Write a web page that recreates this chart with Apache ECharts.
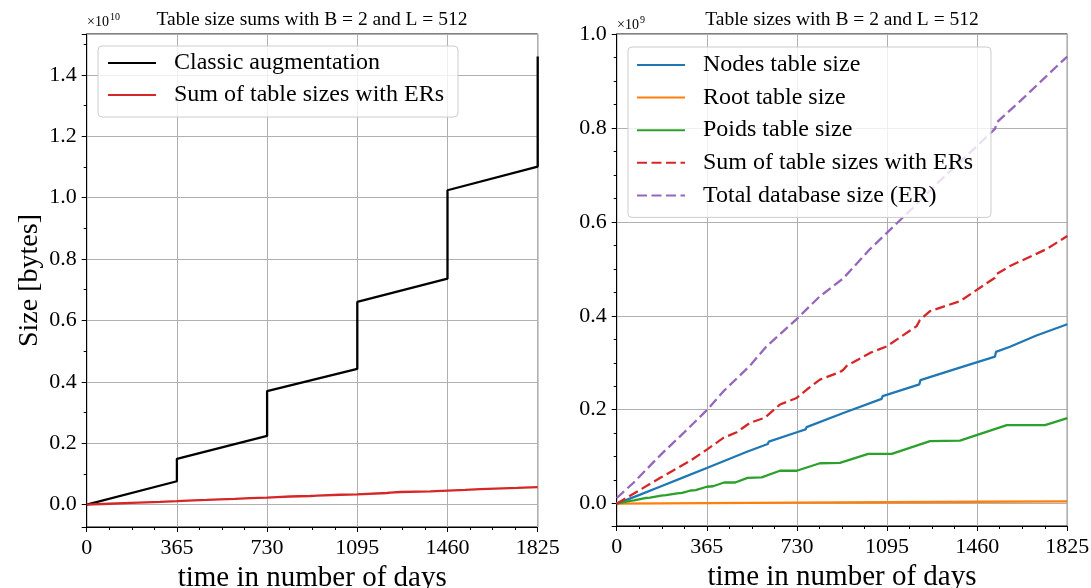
<!DOCTYPE html>
<html><head><meta charset="utf-8">
<script src="https://cdn.jsdelivr.net/npm/echarts@6/dist/echarts.min.js"></script>
<style>html,body{margin:0;padding:0;background:#fff}#c{width:1091px;height:588px}</style>
</head><body><div id="c"></div>
<script>
// values in units of 1e9 bytes, x in days
const dayTicks = [0, 365, 730, 1095, 1460, 1825];
const classicAug = [[0,0],[365,0.76],[365,1.49],[730,2.24],[730,3.70],[1095,4.42],[1095,6.60],[1460,7.36],[1460,10.24],[1825,11.01],[1825,14.6]];
const sumER = [[0,0],[90,0.028],[180,0.056],[297,0.091],[365,0.115],[432,0.140],[486,0.152],[540,0.172],[600,0.183],[661,0.211],[729,0.225],[770,0.243],[823,0.264],[904,0.280],[918,0.285],[931,0.293],[1026,0.321],[1094,0.335],[1215,0.378],[1228,0.391],[1269,0.410],[1390,0.431],[1532,0.481],[1539,0.489],[1593,0.506],[1741,0.542],[1825,0.570]];
const nodesT = [[0,0],[90,0.018],[180,0.037],[270,0.056],[365,0.076],[450,0.094],[530,0.111],[612,0.127],[616,0.132],[730,0.152],[765,0.158],[769,0.163],[918,0.193],[922,0.197],[1073,0.223],[1077,0.229],[1226,0.254],[1230,0.263],[1380,0.288],[1532,0.313],[1536,0.323],[1593,0.334],[1700,0.358],[1825,0.382]];
const rootT = [[0,0],[365,0.001],[730,0.002],[1095,0.003],[1460,0.004],[1825,0.005]];
const poidsT = [[0,0],[55,0.006],[70,0.007],[115,0.012],[135,0.013],[180,0.017],[200,0.018],[245,0.022],[265,0.023],[300,0.028],[320,0.029],[365,0.036],[390,0.037],[435,0.045],[480,0.045],[530,0.055],[587,0.056],[661,0.070],[729,0.070],[823,0.086],[904,0.087],[1019,0.106],[1114,0.106],[1269,0.133],[1390,0.134],[1580,0.167],[1735,0.167],[1825,0.182]];
const totalER = [[0,0.012],[67,0.044],[180,0.105],[270,0.150],[365,0.199],[432,0.239],[540,0.294],[607,0.335],[729,0.393],[820,0.440],[918,0.480],[1026,0.542],[1095,0.577],[1200,0.630],[1300,0.683],[1420,0.742],[1532,0.798],[1540,0.812],[1650,0.865],[1810,0.945],[1825,0.952]];

const FF = '"Liberation Serif", "DejaVu Serif", serif';
const chart = echarts.init(document.getElementById('c'), null, {renderer: 'canvas'});

function xAx(gi) {
  return {
    type: 'value', gridIndex: gi, min: dayTicks[0], max: dayTicks[dayTicks.length-1], interval: 365,
    name: 'time in number of days', nameLocation: 'middle', nameGap: 32,
    nameTextStyle: {fontFamily: FF, fontSize: 29, color: '#000'},
    axisLine: {show: true, onZero: false, lineStyle: {color: '#000', width: 1}},
    axisTick: {show: true, length: 5, lineStyle: {color: '#000'}},
    minorTick: {show: true, splitNumber: 4, length: 3, lineStyle: {color: '#000'}},
    axisLabel: {fontFamily: FF, fontSize: 22, color: '#000', margin: 10, formatter: v => String(v)},
    splitLine: {show: true, lineStyle: {color: '#b0b0b0', width: 1}}
  };
}
function yAx(gi, min, max, split, minorSplit, fmt, name) {
  return {
    type: 'value', gridIndex: gi, min: min, max: max, splitNumber: split,
    name: name || '', nameLocation: 'middle', nameGap: 43,
    nameTextStyle: {fontFamily: FF, fontSize: 28, color: '#000'},
    axisLine: {show: true, onZero: false, lineStyle: {color: '#000', width: 1}},
    axisTick: {show: true, length: 5, lineStyle: {color: '#000'}},
    minorTick: {show: true, splitNumber: minorSplit, length: 3, lineStyle: {color: '#000'}},
    axisLabel: {fontFamily: FF, fontSize: 22, color: '#000', margin: 10, showMinLabel: false, showMaxLabel: max === 1.0,
      formatter: fmt},
    splitLine: {show: true, lineStyle: {color: '#b0b0b0', width: 1}}
  };
}
function ln(name, data, color, gi, dashed) {
  return {
    type: 'line', name: name, data: data, xAxisIndex: gi, yAxisIndex: gi,
    symbol: 'none', smooth: false, animation: false,
    lineStyle: {color: color, width: 2.3, type: dashed ? [10, 4.5] : 'solid'},
    itemStyle: {color: color}
  };
}
const legendCommon = {
  orient: 'vertical', itemWidth: 48, itemHeight: 2, itemGap: 8,
  backgroundColor: 'rgba(255,255,255,0.8)', borderColor: '#cccccc', borderWidth: 1, borderRadius: 4,
  itemStyle: {opacity: 0},
  textStyle: {fontFamily: FF, fontSize: 24, color: '#000', lineHeight: 24, padding: [0,0,0,13]},
  selectedMode: false
};
chart.setOption({
  animation: false,
  grid: [
    {left: 86.7, right: 553.3, top: 34, bottom: 61, show: true, borderColor: '#000', borderWidth: 1, containLabel: false, outerBoundsMode: 'none'},
    {left: 616.7, right: 23.7, top: 34, bottom: 62, show: true, borderColor: '#000', borderWidth: 1, containLabel: false, outerBoundsMode: 'none'}
  ],
  xAxis: [xAx(0), xAx(1)],
  yAxis: [
    yAx(0, -0.73, 15.33, 8, 2, v => (v / 10).toFixed(1), 'Size [bytes]'),
    yAx(1, -0.0476, 1.0, 5, 4, v => v.toFixed(1))
  ],
  legend: [
    Object.assign({}, legendCommon, {left: 98, top: 46, padding: [5, 14, 10, 9],
      data: ['Classic augmentation', 'Sum of table sizes with ERs']}),
    Object.assign({}, legendCommon, {left: 628, top: 47, padding: [6, 12, 10, 8], itemGap: 8.6,
      data: ['Nodes table size', 'Root table size', 'Poids table size', 'Sum of table sizes with ERs ', 'Total database size (ER)']})
  ],
  graphic: [
    {type: 'text', x: 312, y: 20, style: {text: 'Table size sums with B = 2 and L = 512', fontFamily: FF, fontSize: 19.5, fill: '#000', align: 'center', verticalAlign: 'middle'}},
    {type: 'text', x: 842, y: 20, style: {text: 'Table sizes with B = 2 and L = 512', fontFamily: FF, fontSize: 19.5, fill: '#000', align: 'center', verticalAlign: 'middle'}},
    {type: 'text', x: 87, y: 22, style: {text: '×10', fontFamily: FF, fontSize: 14, fill: '#000', align: 'left', verticalAlign: 'middle'}},
    {type: 'text', x: 110, y: 17, style: {text: '10', fontFamily: FF, fontSize: 10, fill: '#000', align: 'left', verticalAlign: 'middle'}},
    {type: 'text', x: 617, y: 25, style: {text: '×10', fontFamily: FF, fontSize: 14, fill: '#000', align: 'left', verticalAlign: 'middle'}},
    {type: 'text', x: 640, y: 20, style: {text: '9', fontFamily: FF, fontSize: 10, fill: '#000', align: 'left', verticalAlign: 'middle'}}
  ],
  series: [
    ln('Classic augmentation', classicAug, '#000000', 0, false),
    ln('Sum of table sizes with ERs', sumER, '#d62728', 0, false),
    ln('Nodes table size', nodesT, '#1f77b4', 1, false),
    ln('Root table size', rootT, '#ff7f0e', 1, false),
    ln('Poids table size', poidsT, '#2ca02c', 1, false),
    ln('Sum of table sizes with ERs ', sumER, '#d62728', 1, true),
    ln('Total database size (ER)', totalER, '#9467bd', 1, true)
  ]
});
</script></body></html>
